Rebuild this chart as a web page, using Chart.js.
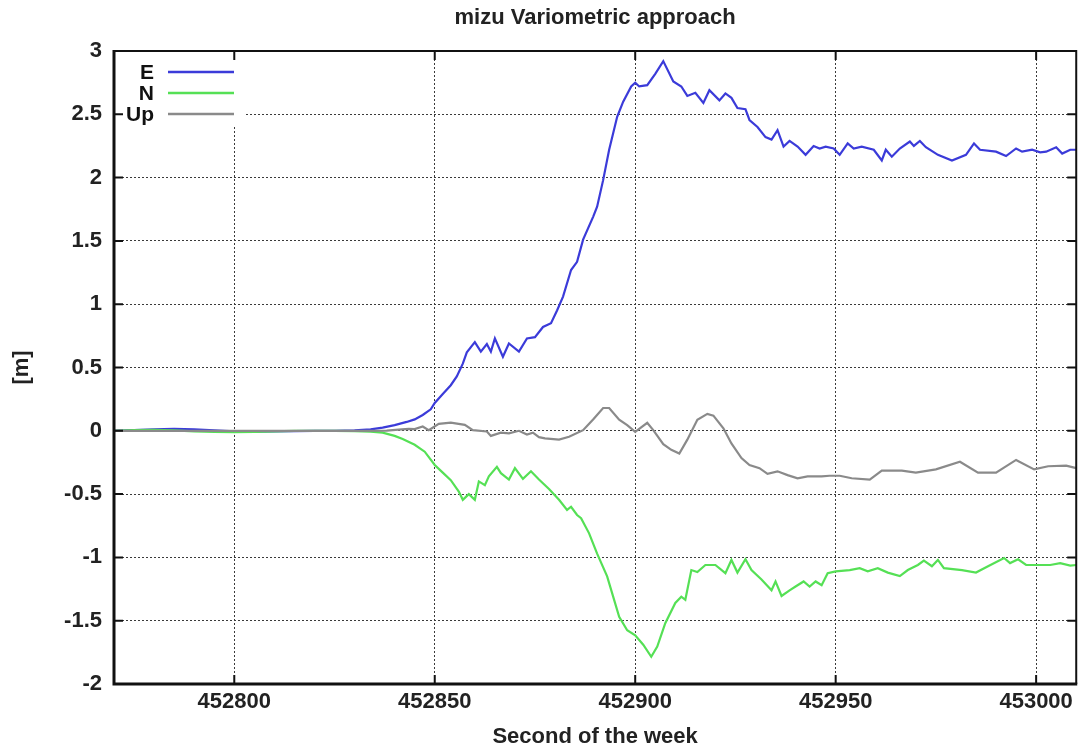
<!DOCTYPE html>
<html>
<head>
<meta charset="utf-8">
<title>mizu Variometric approach</title>
<script src="https://cdn.jsdelivr.net/npm/chart.js@4.4.1/dist/chart.umd.min.js"></script>
<style>
  html, body { margin: 0; padding: 0; background: #fff; }
  #wrap { width: 1080px; height: 748px; }
</style>
</head>
<body>
<div id="wrap"><canvas id="chart" width="1080" height="748"></canvas></div>
<script>
// tick values
const xTickValues = [452800, 452850, 452900, 452950, 453000];
const yTickValues = [-2, -1.5, -1, -0.5, 0, 0.5, 1, 1.5, 2, 2.5, 3];

// E component
const eTime = [452770, 452775, 452780, 452785, 452790, 452795, 452800, 452805, 452810, 452815,
  452820, 452825, 452830, 452834, 452837, 452840, 452843, 452845, 452847, 452849,
  452850, 452852, 452854, 452855.5, 452857, 452858, 452860, 452861.5, 452863, 452864,
  452865, 452867, 452868.5, 452871, 452873, 452875, 452877, 452879, 452880.5, 452882,
  452884, 452885.5, 452887, 452889.5, 452890.5, 452892, 452893.5, 452895.5, 452897, 452899,
  452900, 452901, 452903, 452905, 452907, 452909.5, 452911.5, 452913, 452915, 452917,
  452918.5, 452921, 452922.5, 452924, 452925.5, 452927.5, 452928.5, 452930.5, 452932.5, 452934,
  452935.5, 452937, 452938.5, 452940.5, 452942.5, 452944.5, 452946, 452947.5, 452949.5, 452951,
  452953, 452954.5, 452956.5, 452959.5, 452961.5, 452962.5, 452964, 452966, 452968.5, 452969.5,
  452971, 452972.5, 452975.5, 452979, 452982.5, 452984.5, 452986, 452990, 452992.5, 452995,
  452996.5, 452999, 453001, 453002.5, 453005, 453006.5, 453008.5, 453010];
const eValues = [0, 0.005, 0.012, 0.015, 0.012, 0.004, -0.004, -0.006, -0.004, -0.002,
  0, 0, 0.004, 0.012, 0.025, 0.045, 0.07, 0.09, 0.125, 0.17,
  0.22, 0.29, 0.36, 0.43, 0.53, 0.62, 0.70, 0.625, 0.685, 0.625,
  0.73, 0.585, 0.69, 0.625, 0.73, 0.74, 0.82, 0.85, 0.95, 1.06,
  1.27, 1.335, 1.51, 1.69, 1.77, 1.98, 2.22, 2.48, 2.60, 2.72,
  2.75, 2.72, 2.73, 2.82, 2.92, 2.76, 2.72, 2.645, 2.67, 2.59,
  2.69, 2.61, 2.665, 2.63, 2.55, 2.54, 2.455, 2.40, 2.32, 2.30,
  2.375, 2.245, 2.29, 2.245, 2.18, 2.25, 2.23, 2.245, 2.23, 2.18,
  2.27, 2.23, 2.245, 2.22, 2.135, 2.22, 2.165, 2.23, 2.285, 2.25,
  2.29, 2.24, 2.18, 2.135, 2.18, 2.27, 2.22, 2.205, 2.17, 2.23,
  2.205, 2.22, 2.20, 2.205, 2.24, 2.19, 2.22, 2.22];

// N component
const nTime = [452770, 452775, 452780, 452785, 452790, 452795, 452800, 452805, 452810, 452815,
  452820, 452825, 452830, 452834, 452837, 452840, 452842, 452845, 452847.5, 452850,
  452852, 452854, 452856, 452857, 452858.5, 452860, 452861, 452862.5, 452863.5, 452865.5,
  452866.5, 452868.5, 452870, 452872, 452874, 452876, 452878.5, 452881, 452883, 452884,
  452885.5, 452886.5, 452888.5, 452890.5, 452893, 452894.5, 452896, 452898, 452900, 452902,
  452904, 452905.5, 452907.5, 452910, 452911.5, 452912.5, 452914, 452915.5, 452917.5, 452920,
  452922.5, 452924, 452925.5, 452927.5, 452929, 452931.5, 452934, 452935, 452936.5, 452938.5,
  452940, 452942, 452943.5, 452945, 452946.5, 452948, 452950, 452953.5, 452956, 452958,
  452960.5, 452963, 452966, 452968, 452970.5, 452972, 452974, 452975.5, 452977, 452981.5,
  452985, 452988, 452992, 452993.5, 452995.5, 452997.5, 453000.5, 453003.5, 453006, 453008.5,
  453010];
const nValues = [0, 0.005, 0.008, 0.004, -0.004, -0.008, -0.01, -0.008, -0.004, 0,
  0, 0, -0.002, -0.006, -0.015, -0.04, -0.065, -0.11, -0.165, -0.27,
  -0.33, -0.39, -0.48, -0.545, -0.50, -0.545, -0.40, -0.43, -0.36, -0.285,
  -0.335, -0.385, -0.295, -0.38, -0.32, -0.385, -0.46, -0.545, -0.625, -0.60,
  -0.665, -0.69, -0.81, -0.97, -1.15, -1.31, -1.47, -1.575, -1.615, -1.69,
  -1.785, -1.705, -1.52, -1.36, -1.31, -1.335, -1.10, -1.115, -1.06, -1.06,
  -1.125, -1.02, -1.12, -1.015, -1.10, -1.175, -1.26, -1.19, -1.305, -1.26,
  -1.23, -1.19, -1.23, -1.19, -1.22, -1.125, -1.11, -1.10, -1.085, -1.11,
  -1.085, -1.12, -1.147, -1.10, -1.06, -1.025, -1.07, -1.02, -1.085, -1.10,
  -1.12, -1.07, -1.005, -1.045, -1.015, -1.06, -1.06, -1.06, -1.045, -1.065,
  -1.06];

// Up component
const upTime = [452770, 452800, 452830, 452838, 452841, 452843.5, 452845, 452847, 452848.5, 452851,
  452854, 452857.5, 452859.5, 452863, 452864, 452866.5, 452868.5, 452871, 452873, 452874.5,
  452876, 452877.5, 452881, 452883.5, 452887, 452889.5, 452892, 452893.5, 452896, 452898,
  452900, 452903, 452904.5, 452907, 452909, 452911, 452913, 452915.5, 452918, 452919.5,
  452922, 452924, 452926.5, 452928.5, 452931, 452933, 452935.5, 452938, 452940.5, 452943,
  452946.5, 452948.5, 452951, 452954, 452958.5, 452961.5, 452966.5, 452970, 452975, 452981,
  452985.5, 452990, 452995, 452999.5, 453003, 453007.5, 453010];
const upValues = [0, 0, 0, 0.002, 0.01, 0.015, 0.013, 0.034, 0.005, 0.055,
  0.065, 0.047, 0.005, -0.005, -0.04, -0.015, -0.02, 0, -0.03, -0.015,
  -0.05, -0.06, -0.07, -0.047, 0.005, 0.09, 0.18, 0.18, 0.087, 0.045,
  -0.008, 0.063, 0.005, -0.105, -0.15, -0.18, -0.07, 0.087, 0.134, 0.12,
  0.02, -0.10, -0.215, -0.27, -0.295, -0.34, -0.32, -0.35, -0.375, -0.36,
  -0.36, -0.355, -0.355, -0.375, -0.385, -0.315, -0.315, -0.33, -0.305, -0.245,
  -0.33, -0.33, -0.23, -0.305, -0.28, -0.275, -0.295];

const seriesNames = ["E", "N", "Up"];
const seriesColors = ["#3b3bd9", "#55e055", "#8a8a8a"];

function toPoints(times, values) {
  return times.map((t, i) => ({ x: t, y: values[i] }));
}

const FONT = "'Liberation Sans', Arial, sans-serif";
const TEXT_SIZE = 22;

// gnuplot-like frame, inner tick marks and key
const gnuplotDecor = {
  id: "gnuplotDecor",
  beforeDatasetsDraw(chart) {
    const ctx = chart.ctx;
    const area = chart.chartArea;
    ctx.save();
    // key box hides the grid behind it
    ctx.fillStyle = "#fff";
    ctx.fillRect(area.left + 2, area.top + 2, 130, 74);
    ctx.font = "bold 21px " + FONT;
    ctx.textAlign = "right";
    ctx.textBaseline = "middle";
    seriesNames.forEach((name, i) => {
      const y = area.top + 21 + i * 21;
      ctx.fillStyle = "#111";
      ctx.fillText(name, area.left + 40, y + 1);
      ctx.strokeStyle = seriesColors[i];
      ctx.lineWidth = 2.5;
      ctx.beginPath();
      ctx.moveTo(area.left + 54, y);
      ctx.lineTo(area.left + 120, y);
      ctx.stroke();
    });
    ctx.restore();
  },
  afterDraw(chart) {
    const ctx = chart.ctx;
    const area = chart.chartArea;
    const xs = chart.scales.x;
    const ys = chart.scales.y;
    ctx.save();
    ctx.strokeStyle = "#111";
    ctx.lineWidth = 2;
    xTickValues.forEach((v) => {
      const px = xs.getPixelForValue(v);
      ctx.beginPath();
      ctx.moveTo(px, area.bottom);
      ctx.lineTo(px, area.bottom - 9);
      ctx.moveTo(px, area.top);
      ctx.lineTo(px, area.top + 9);
      ctx.stroke();
    });
    yTickValues.forEach((v) => {
      const py = ys.getPixelForValue(v);
      ctx.beginPath();
      ctx.moveTo(area.left, py);
      ctx.lineTo(area.left + 9, py);
      ctx.moveTo(area.right, py);
      ctx.lineTo(area.right - 9, py);
      ctx.stroke();
    });
    // frame
    ctx.lineWidth = 2;
    ctx.beginPath();
    ctx.moveTo(area.left, area.top);
    ctx.lineTo(area.right, area.top);
    ctx.lineTo(area.right, area.bottom);
    ctx.stroke();
    ctx.lineWidth = 3;
    ctx.beginPath();
    ctx.moveTo(area.left, area.top - 1);
    ctx.lineTo(area.left, area.bottom);
    ctx.lineTo(area.right + 1, area.bottom);
    ctx.stroke();
    ctx.restore();
  },
};

const ctx = document.getElementById("chart").getContext("2d");
new Chart(ctx, {
  type: "line",
  data: {
    datasets: [
      { label: "E", data: toPoints(eTime, eValues), borderColor: seriesColors[0], order: 3 },
      { label: "N", data: toPoints(nTime, nValues), borderColor: seriesColors[1], order: 2 },
      { label: "Up", data: toPoints(upTime, upValues), borderColor: seriesColors[2], order: 1 },
    ],
  },
  options: {
    responsive: false,
    animation: false,
    parsing: false,
    elements: {
      line: { borderWidth: 2.2, tension: 0 },
      point: { radius: 0 },
    },
    layout: { padding: { left: 0, right: 3, top: 0, bottom: 0 } },
    plugins: {
      legend: { display: false },
      tooltip: { enabled: false },
      title: {
        display: true,
        text: "mizu Variometric approach",
        fullSize: false,
        color: "#222",
        font: { family: FONT, size: TEXT_SIZE, weight: "bold", lineHeight: 1 },
        padding: { top: 7, bottom: 22 },
      },
    },
    scales: {
      x: {
        type: "linear",
        min: 452770,
        max: 453010,
        afterFit: (s) => { s.height = 64; },
        afterBuildTicks: (s) => { s.ticks = xTickValues.map((v) => ({ value: v })); },
        grid: { color: "#3a3a3a", lineWidth: 1, drawTicks: false },
        border: { display: false, dash: [2, 2] },
        ticks: {
          padding: 7,
          color: "#222",
          font: { family: FONT, size: TEXT_SIZE, weight: "bold", lineHeight: 1 },
          callback: (v) => String(v),
        },
        title: {
          display: true,
          text: "Second of the week",
          color: "#222",
          font: { family: FONT, size: TEXT_SIZE, weight: "bold", lineHeight: 1 },
          padding: { top: 0, bottom: 0 },
        },
      },
      y: {
        min: -2,
        max: 3,
        afterFit: (s) => { s.width = 114; },
        afterBuildTicks: (s) => { s.ticks = yTickValues.map((v) => ({ value: v })); },
        grid: { color: "#3a3a3a", lineWidth: 1, drawTicks: false },
        border: { display: false, dash: [2, 2] },
        ticks: {
          padding: 12,
          color: "#222",
          font: { family: FONT, size: TEXT_SIZE, weight: "bold", lineHeight: 1 },
          callback: (v) => String(v),
        },
        title: {
          display: true,
          text: "[m]",
          color: "#222",
          font: { family: FONT, size: TEXT_SIZE, weight: "bold", lineHeight: 1 },
          padding: { top: 11, bottom: 0 },
        },
      },
    },
  },
  plugins: [gnuplotDecor],
});
</script>
</body>
</html>
